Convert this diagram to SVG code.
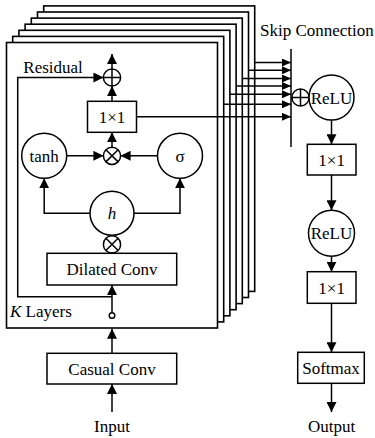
<svg xmlns="http://www.w3.org/2000/svg" width="375" height="438" viewBox="0 0 375 438">
<style>
  .ln{fill:none;stroke:#000;stroke-width:1.5}
  .bx{fill:#fff;stroke:#000;stroke-width:1.5}
  .lyr{fill:#fff;stroke:#000;stroke-width:1.6}
  .t{font-family:"Liberation Serif","Times New Roman",serif;font-size:17px;fill:#000}
  .c{text-anchor:middle}
</style>
<defs>
  <marker id="ah" markerUnits="userSpaceOnUse" markerWidth="10" markerHeight="10" refX="10" refY="5" orient="auto">
    <path d="M0,0 L10,5 L0,10 z" fill="#000"/>
  </marker>
  <marker id="ahs" markerUnits="userSpaceOnUse" markerWidth="9" markerHeight="8" refX="9" refY="4" orient="auto">
    <path d="M0,0 L9,4 L0,8 z" fill="#000"/>
  </marker>
  <g id="otimes">
    <circle r="8.6" fill="#fff" stroke="#000" stroke-width="1.5"/>
    <path d="M-6.1,-6.1 L6.1,6.1 M-6.1,6.1 L6.1,-6.1" stroke="#000" stroke-width="1.5"/>
  </g>
  <g id="oplus">
    <circle r="8.6" fill="#fff" stroke="#000" stroke-width="1.5"/>
    <path d="M-8.6,0 L8.6,0 M0,-8.6 L0,8.6" stroke="#000" stroke-width="1.5"/>
  </g>
</defs>

<!-- stacked layers (back to front) -->
<g id="layers">
  <rect class="lyr" x="43.7" y="5.9" width="211" height="285.5"/>
  <rect class="lyr" x="37.5" y="12" width="211" height="285.5"/>
  <rect class="lyr" x="31.3" y="18.1" width="211" height="285.5"/>
  <rect class="lyr" x="25.1" y="24.2" width="211" height="285.5"/>
  <rect class="lyr" x="18.9" y="30.3" width="211" height="285.5"/>
  <rect class="lyr" x="12.7" y="36.4" width="211" height="285.5"/>
  <rect class="lyr" x="6.5" y="42.5" width="211" height="285.5"/>
</g>

<g id="connectors">
  <!-- skip lines from back layers -->
  <line class="ln" x1="254.7" y1="62.5" x2="291" y2="62.5" marker-end="url(#ahs)"/>
  <line class="ln" x1="248.5" y1="70.3" x2="291" y2="70.3" marker-end="url(#ahs)"/>
  <line class="ln" x1="242.3" y1="78.5" x2="291" y2="78.5" marker-end="url(#ahs)"/>
  <line class="ln" x1="236.1" y1="86" x2="291" y2="86" marker-end="url(#ahs)"/>
  <line class="ln" x1="229.9" y1="94.3" x2="291" y2="94.3" marker-end="url(#ahs)"/>
  <line class="ln" x1="223.7" y1="104.3" x2="291" y2="104.3" marker-end="url(#ahs)"/>
  <line class="ln" x1="136.5" y1="116.8" x2="291" y2="116.8" marker-end="url(#ahs)"/>
  <!-- skip bar -->
  <line class="ln" x1="291" y1="49" x2="291" y2="147"/>

  <!-- inner layer -->
  <line class="ln" x1="112" y1="69" x2="112" y2="54" marker-end="url(#ah)"/>
  <line class="ln" x1="112" y1="101.3" x2="112" y2="86.1" marker-end="url(#ah)"/>
  <line class="ln" x1="112" y1="147.2" x2="112" y2="132.3" marker-end="url(#ah)"/>
  <line class="ln" x1="66.7" y1="155.8" x2="103.4" y2="155.8" marker-end="url(#ah)"/>
  <line class="ln" x1="157.5" y1="155.8" x2="120.6" y2="155.8" marker-end="url(#ah)"/>
  <polyline class="ln" points="90,213.3 44.2,213.3 44.2,178.3" marker-end="url(#ah)"/>
  <polyline class="ln" points="134,213.3 180,213.3 180,178.3" marker-end="url(#ah)"/>
  <line class="ln" x1="112" y1="312.7" x2="112" y2="285" marker-end="url(#ah)"/>
  <polyline class="ln" points="112,296.7 17.7,296.7 17.7,77.5 103.4,77.5" marker-end="url(#ah)"/>

  <!-- input path -->
  <line class="ln" x1="112" y1="412" x2="112" y2="384" marker-end="url(#ah)"/>
  <line class="ln" x1="112" y1="353.3" x2="112" y2="328.8" marker-end="url(#ah)"/>

  <!-- output path -->
  <line class="ln" x1="331.5" y1="120" x2="331.5" y2="144.3" marker-end="url(#ah)"/>
  <line class="ln" x1="331.5" y1="175" x2="331.5" y2="210.3" marker-end="url(#ah)"/>
  <line class="ln" x1="331.5" y1="256.3" x2="331.5" y2="271.7" marker-end="url(#ah)"/>
  <line class="ln" x1="331.5" y1="303.3" x2="331.5" y2="352.3" marker-end="url(#ah)"/>
  <line class="ln" x1="331.5" y1="383.3" x2="331.5" y2="412" marker-end="url(#ah)"/>
</g>

<g id="sum-top"><use href="#oplus" x="112" y="77.5"/></g>
<g id="conv1x1-inner">
  <rect class="bx" x="87.5" y="101.3" width="49" height="31"/>
  <text class="t c" x="112" y="122.8">1×1</text>
</g>
<g id="mul-gate"><use href="#otimes" x="112" y="155.8"/></g>
<g id="tanh">
  <circle class="bx" cx="44.2" cy="155.8" r="22.5"/>
  <text class="t c" x="44.2" y="161.8">tanh</text>
</g>
<g id="sigma">
  <circle class="bx" cx="180" cy="155.8" r="22.5"/>
  <text class="t c" x="180" y="162" font-size="18">σ</text>
</g>
<g id="h">
  <circle class="bx" cx="112" cy="213.3" r="22"/>
  <text class="t c" x="112" y="219.3" font-style="italic">h</text>
</g>
<g id="mul-h"><use href="#otimes" x="112" y="244.4"/></g>
<g id="dilated-conv">
  <rect class="bx" x="47" y="253.3" width="129.7" height="31.7"/>
  <text class="t c" x="112" y="275.3" font-size="18">Dilated Conv</text>
</g>
<g id="tap">
  <circle cx="112" cy="315.5" r="2.8" fill="#fff" stroke="#000" stroke-width="1.4"/>
</g>
<g id="casual-conv">
  <rect class="bx" x="47" y="353.3" width="129.7" height="30.7"/>
  <text class="t c" x="112" y="374.6">Casual Conv</text>
</g>

<g id="sum-skip"><use href="#oplus" x="300.5" y="97.5"/></g>
<g id="relu1">
  <circle class="bx" cx="331.5" cy="97.5" r="22.5"/>
  <text class="t c" x="331.5" y="103.5">ReLU</text>
</g>
<g id="conv1x1-a">
  <rect class="bx" x="307.3" y="144.3" width="48.7" height="30.7"/>
  <text class="t c" x="331.6" y="165.6">1×1</text>
</g>
<g id="relu2">
  <circle class="bx" cx="331.5" cy="233.3" r="23"/>
  <text class="t c" x="331.5" y="239.3">ReLU</text>
</g>
<g id="conv1x1-b">
  <rect class="bx" x="307.3" y="271.7" width="48.7" height="31.6"/>
  <text class="t c" x="331.6" y="293.5">1×1</text>
</g>
<g id="softmax">
  <rect class="bx" x="297.7" y="352.3" width="66.6" height="31"/>
  <text class="t c" x="331" y="373.8">Softmax</text>
</g>

<g id="labels">
  <text class="t" x="260" y="36">Skip Connection</text>
  <text class="t" x="23.3" y="72.7">Residual</text>
  <text class="t" x="10" y="317"><tspan font-style="italic">K</tspan> Layers</text>
  <text class="t c" x="112" y="432">Input</text>
  <text class="t c" x="331.5" y="432">Output</text>
</g>
</svg>
